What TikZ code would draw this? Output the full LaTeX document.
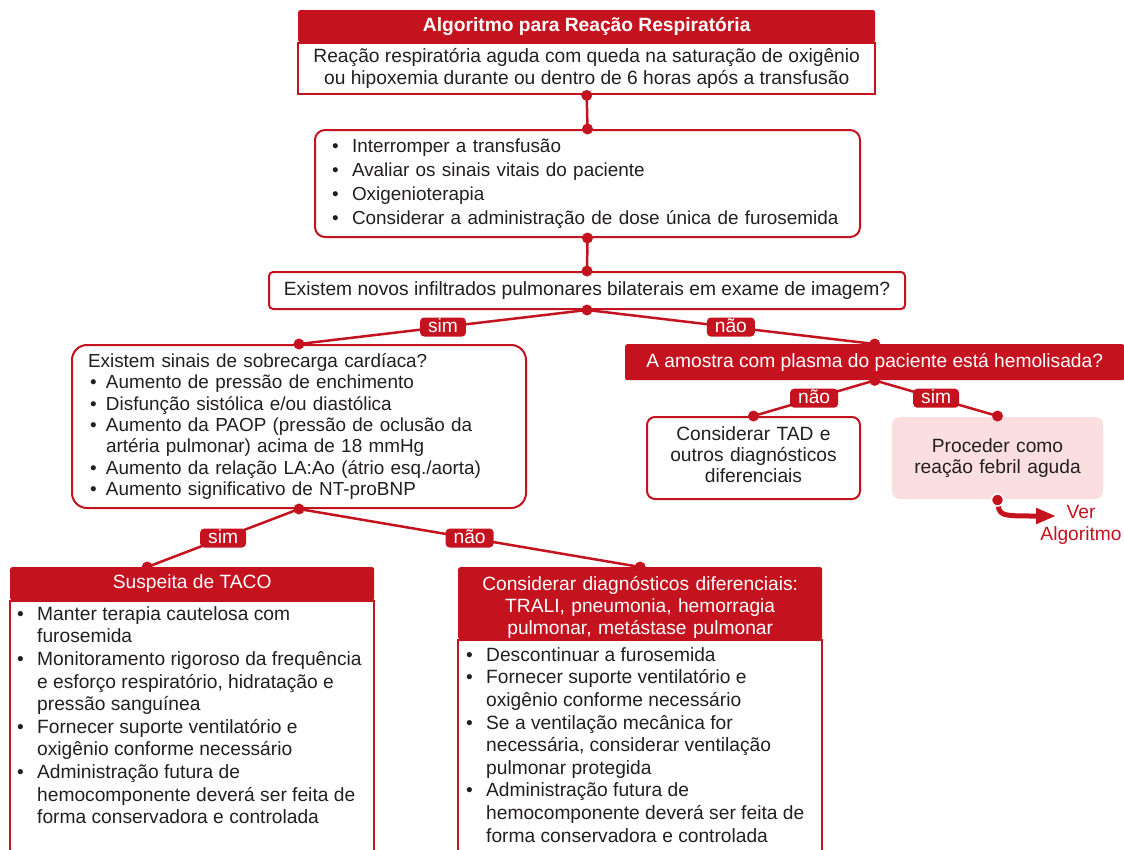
\documentclass[tikz,border=0pt]{standalone}
\usepackage{fontspec}
\setmainfont{Liberation Sans}
\usetikzlibrary{arrows.meta,calc}
\definecolor{figR}{RGB}{196,18,31}
\definecolor{figP}{RGB}{250,222,224}
\definecolor{figT}{RGB}{35,31,32}
\newcommand\bul[1][20pt]{\makebox[#1][l]{\textbullet}}
\newcommand\ind[1][20pt]{\hspace*{#1}}

\begin{document}
\begin{tikzpicture}[x=1pt,y=-1pt,
  every node/.style={font=\fontsize{19.2}{22}\selectfont,text=figT},
  caixa/.style={draw=figR,line width=2pt,fill=white,rounded corners=8pt,inner sep=0pt},
  cab/.style={fill=figR,text=white,rounded corners=2pt,inner sep=0pt},
  rot/.style={fill=figR,text=white,rounded corners=4pt,inner xsep=8pt,inner ysep=1.5pt,text height=13pt,text depth=3pt},
  liga/.style={draw=figR,line width=2.5pt}]
\useasboundingbox (0,0) rectangle (1124,849);
% topo
\node[cab,anchor=north west,minimum width=577pt,minimum height=32pt,font=\bfseries\fontsize{19.2}{22}\selectfont] (algh) at (298,10) {Algoritmo para Reação Respiratória};
\node[caixa,rounded corners=0pt,anchor=north,minimum width=577pt,minimum height=51pt,align=center] (alg) at (algh.south) {Reação respiratória aguda com queda na saturação de oxigênio\\ou hipoxemia durante ou dentro de 6 horas após a transfusão};
\node[caixa,rounded corners=10pt,anchor=north west,minimum width=545pt,minimum height=107pt,inner xsep=17pt,text width=511pt,align=left,font=\fontsize{18.9}{24}\selectfont] (acoes) at (314,129) {\bul Interromper a transfusão\\\bul Avaliar os sinais vitais do paciente\\\bul Oxigenioterapia\\\bul Considerar a administração de dose única de furosemida};
\node[caixa,rounded corners=4pt,anchor=north west,minimum width=636pt,minimum height=37pt] (infil) at (268,271) {Existem novos infiltrados pulmonares bilaterais em exame de imagem?};
% ramo sim
\node[caixa,rounded corners=15pt,anchor=north west,minimum width=454pt,minimum height=163pt,inner xsep=16pt,text width=422pt,align=left,font=\fontsize{18.9}{21.3}\selectfont] (sobre) at (71,344) {Existem sinais de sobrecarga cardíaca?\\\ind[2pt]\bul[16pt]Aumento de pressão de enchimento\\\ind[2pt]\bul[16pt]Disfunção sistólica e/ou diastólica\\\ind[2pt]\bul[16pt]Aumento da PAOP (pressão de oclusão da\\\ind[18pt]artéria pulmonar) acima de 18 mmHg\\\ind[2pt]\bul[16pt]Aumento da relação LA:Ao (átrio esq./aorta)\\\ind[2pt]\bul[16pt]Aumento significativo de NT-proBNP};
\node[cab,anchor=north west,minimum width=364pt,minimum height=33pt] (tacoh) at (10,567) {Suspeita de TACO};
\node[caixa,rounded corners=0pt,anchor=north,minimum width=364pt,inner xsep=7pt,inner ysep=5pt] (tacob) at (tacoh.south) {\parbox[t][250pt][t]{350pt}{\fontsize{19.2}{22.6}\selectfont
  \bul Manter terapia cautelosa com\\\ind furosemida\\
  \bul Monitoramento rigoroso da frequência\\\ind e esforço respiratório, hidratação e\\\ind pressão sanguínea\\
  \bul Fornecer suporte ventilatório e\\\ind oxigênio conforme necessário\\
  \bul Administração futura de\\\ind hemocomponente deverá ser feita de\\\ind forma conservadora e controlada}};
\node[cab,anchor=north west,minimum width=364pt,minimum height=72pt,text width=350pt,align=center] (difh) at (458,567) {\rule{0pt}{23pt}Considerar diagnósticos diferenciais:\\TRALI, pneumonia, hemorragia\\pulmonar, metástase pulmonar};
\node[caixa,rounded corners=0pt,anchor=north,minimum width=364pt,inner xsep=8pt,inner ysep=7pt] (difb) at (difh.south) {\parbox[t][200pt][t]{348pt}{\fontsize{19.2}{22.6}\selectfont
  \bul Descontinuar a furosemida\\
  \bul Fornecer suporte ventilatório e\\\ind oxigênio conforme necessário\\
  \bul Se a ventilação mecânica for\\\ind necessária, considerar ventilação\\\ind pulmonar protegida\\
  \bul Administração futura de\\\ind hemocomponente deverá ser feita de\\\ind forma conservadora e controlada}};
% ramo nao
\node[cab,anchor=north west,minimum width=499pt,minimum height=36pt] (hemol) at (625,344) {A amostra com plasma do paciente está hemolisada?};
\node[caixa,anchor=north west,minimum width=213pt,minimum height=82pt,text width=200pt,align=center,font=\fontsize{19.2}{21}\selectfont] (tad) at (646,416) {Considerar TAD e\\outros diagnósticos\\diferenciais\rule[-6pt]{0pt}{6pt}};
\node[caixa,draw=none,fill=figP,anchor=north west,minimum width=211pt,minimum height=82pt,text width=200pt,align=center,font=\fontsize{19.2}{21}\selectfont] (febril) at (891,416) {Proceder como\\reação febril aguda};
\node[text=figR,align=center] (ver) at (1081,525) {Ver\\Algoritmo};
\coordinate (tacoin) at ($(tacoh.north)+(-45,0)$);
\coordinate (verp) at (1056,516);
% ligacoes
\path[liga] (alg.south) -- (acoes.north);
\path[liga] (acoes.south) -- (infil.north);
\path[liga] (infil.south) -- node[rot]{sim} (sobre.north);
\path[liga] (infil.south) -- node[rot]{não} (hemol.north);
\path[liga] (sobre.south) -- node[rot]{sim} (tacoin);
\path[liga] (sobre.south) -- node[rot]{não} (difh.north);
\path[liga] (hemol.south) -- node[rot]{não} (tad.north);
\path[liga] (hemol.south) -- node[rot]{sim} (febril.north);
\draw[figR,line width=5pt,-{Triangle[length=20pt,width=15pt]}] (febril.south) .. controls (999,516) .. (verp);
\foreach \p in {alg.south,acoes.north,acoes.south,infil.north,infil.south,sobre.north,hemol.north,sobre.south,tacoin,difh.north,hemol.south,tad.north,febril.north}
  \fill[figR] (\p) circle (5.5pt);
\filldraw[figR,draw=white,line width=1.5pt] (febril.south) circle (6pt);
\end{tikzpicture}
\end{document}
